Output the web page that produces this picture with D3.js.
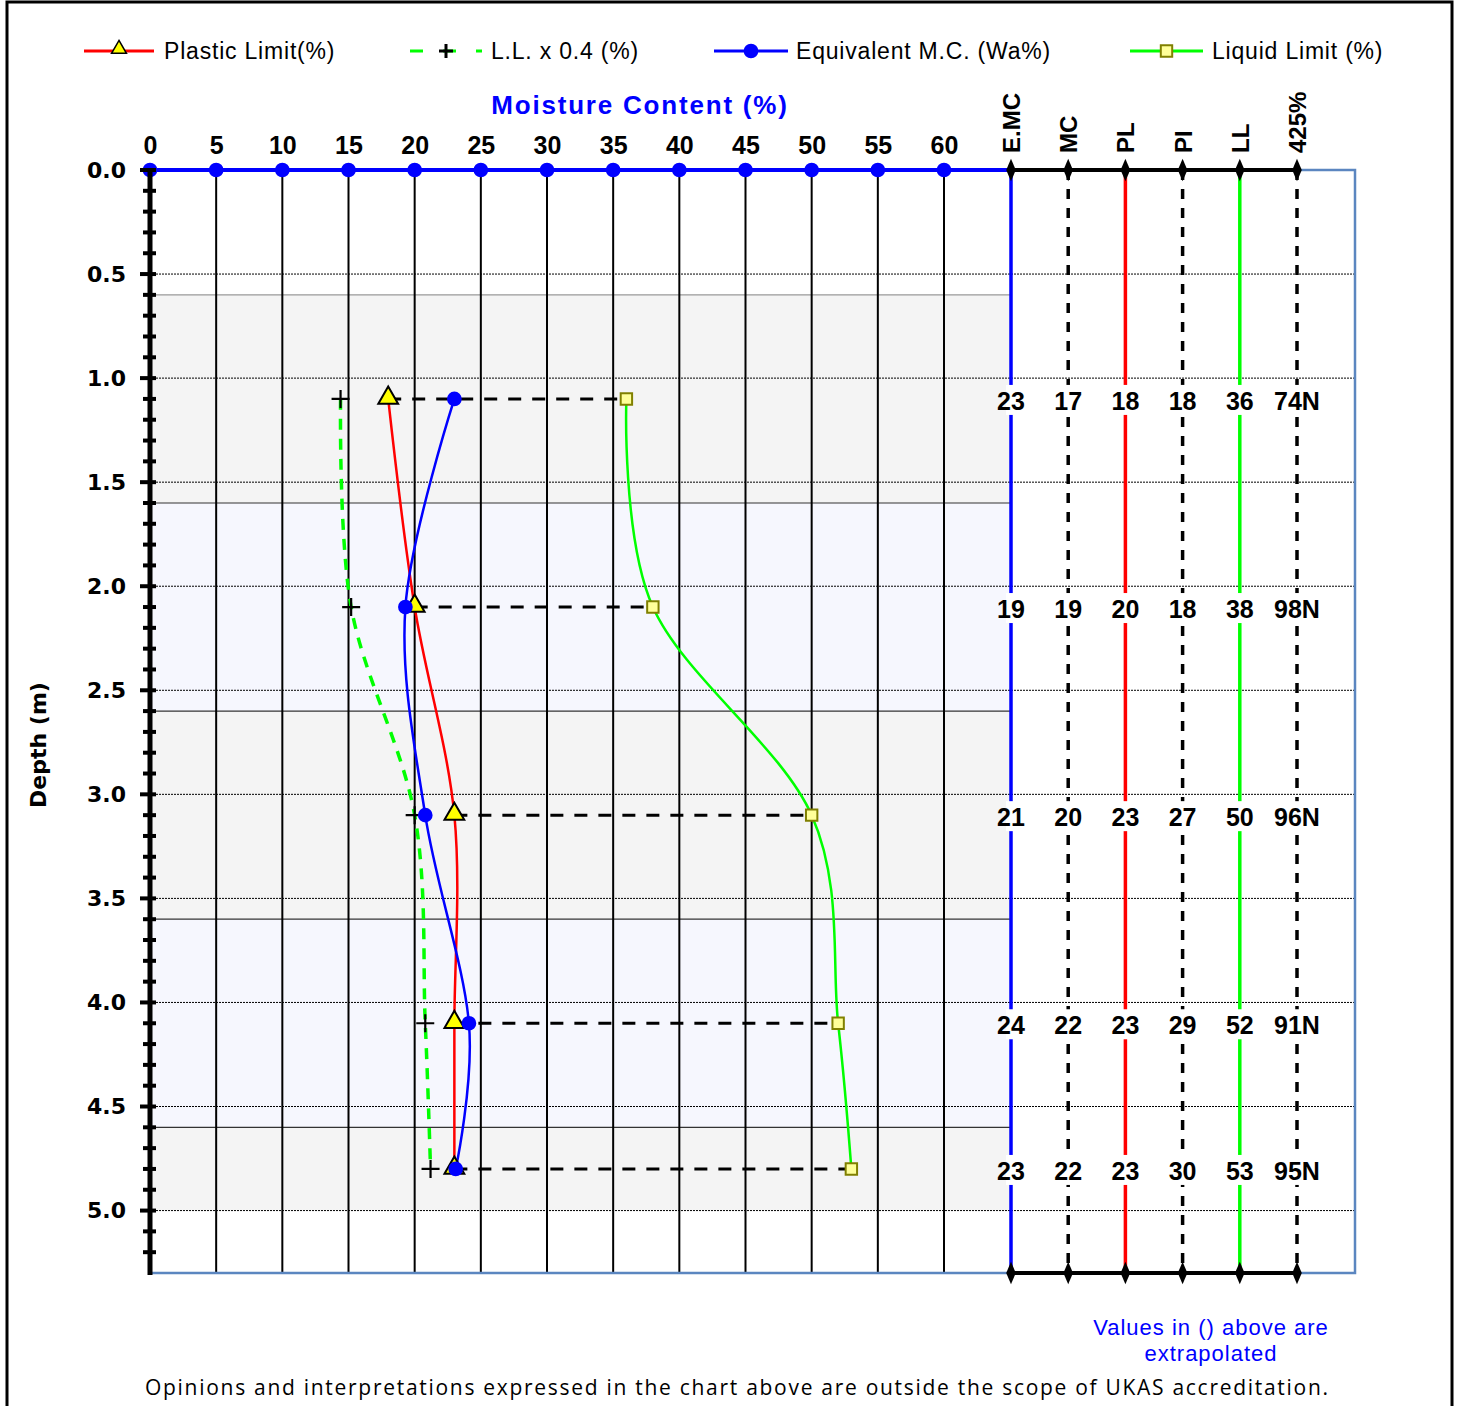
<!DOCTYPE html>
<html>
<head>
<meta charset="utf-8">
<script src="https://cdn.jsdelivr.net/npm/d3@7"></script>
<style>
  body { margin: 0; background: #fff; }
  svg { display: block; }
</style>
</head>
<body>
<script>
// sample depths (m)
var depths = [1.1, 2.1, 3.1, 4.1, 4.8];
// plotted series (%)
var plasticLimit = [18, 20, 23, 23, 23];
var llTimes04 = [14.4, 15.2, 20.0, 20.8, 21.2];
var equivMC = [23.0, 19.3, 20.8, 24.1, 23.1];
var liquidLimit = [36, 38, 50, 52, 53];
// table columns
var colNames = ["E.MC", "MC", "PL", "PI", "LL", "425%"];
var moisture = [17, 19, 20, 22, 22];
var plasticityIndex = [18, 18, 27, 29, 30];
var passing425 = ["74N", "98N", "96N", "91N", "95N"];
// shaded layers
var bandTop = [0.6, 1.6, 2.6, 3.6, 4.6];
var bandBottom = [1.6, 2.6, 3.6, 4.6, 5.0];
var xTicks = [0, 5, 10, 15, 20, 25, 30, 35, 40, 45, 50, 55, 60];
var depthTicks = [0.0, 0.5, 1.0, 1.5, 2.0, 2.5, 3.0, 3.5, 4.0, 4.5, 5.0];

var width = 1458;
var height = 1406;
var plotLeft = 150, plotTop = 170, plotBottom = 1273, plotRight = 1355;

var x = d3.scaleLinear().domain([0, 60]).range([plotLeft, 944]);
var y = d3.scaleLinear().domain([0, 5.3]).range([plotTop, plotBottom]);
var col = d3.scalePoint().domain(colNames).range([1011, 1297]);

var svg = d3.select("body").append("svg")
  .attr("width", width)
  .attr("height", height);

// outer frame
svg.append("rect")
  .attr("x", 7).attr("y", 2)
  .attr("width", 1445).attr("height", 1430)
  .attr("fill", "none").attr("stroke", "#000").attr("stroke-width", 3);

// layer bands
svg.append("g").selectAll("rect")
  .data(bandTop)
  .enter().append("rect")
  .attr("x", plotLeft)
  .attr("y", function(d) { return y(d); })
  .attr("width", col("E.MC") - plotLeft)
  .attr("height", function(d, i) { return y(bandBottom[i]) - y(d); })
  .attr("fill", function(d, i) { return i % 2 == 0 ? "#f4f4f4" : "#f6f7fe"; });

svg.append("g").selectAll("line")
  .data(bandTop)
  .enter().append("line")
  .attr("x1", plotLeft).attr("x2", col("E.MC"))
  .attr("y1", function(d) { return y(d); })
  .attr("y2", function(d) { return y(d); })
  .attr("stroke", function(d, i) { return i == 0 ? "#999" : "#333"; })
  .attr("stroke-width", 1.2);

// dotted depth grid
svg.append("g").selectAll("line")
  .data(depthTicks.slice(1))
  .enter().append("line")
  .attr("x1", plotLeft).attr("x2", plotRight)
  .attr("y1", function(d) { return y(d); })
  .attr("y2", function(d) { return y(d); })
  .attr("stroke", "#000").attr("stroke-width", 1)
  .attr("stroke-dasharray", "2,1");

// vertical grid
svg.append("g").selectAll("line")
  .data(xTicks.slice(1))
  .enter().append("line")
  .attr("x1", function(d) { return x(d); })
  .attr("x2", function(d) { return x(d); })
  .attr("y1", plotTop).attr("y2", plotBottom)
  .attr("stroke", "#000").attr("stroke-width", 2);

// table column lines
var colStyle = {
  "E.MC": ["#0000ff", null],
  "MC": ["#000", "10,9"],
  "PL": ["#ff0000", null],
  "PI": ["#000", "10,9"],
  "LL": ["#00ff00", null],
  "425%": ["#000", "10,9"]
};
svg.append("g").selectAll("line")
  .data(colNames)
  .enter().append("line")
  .attr("x1", function(d) { return col(d); })
  .attr("x2", function(d) { return col(d); })
  .attr("y1", plotTop).attr("y2", plotBottom)
  .attr("stroke", function(d) { return colStyle[d][0]; })
  .attr("stroke-dasharray", function(d) { return colStyle[d][1]; })
  .attr("stroke-width", 3.5);

// plot border right / bottom
svg.append("path")
  .attr("d", "M" + col("425%") + "," + plotTop + "H" + plotRight + "V" + plotBottom + "H" + plotLeft)
  .attr("fill", "none").attr("stroke", "#5b86c0").attr("stroke-width", 2.5);

// dashed connectors PL -> LL
svg.append("g").selectAll("line")
  .data(depths)
  .enter().append("line")
  .attr("x1", function(d, i) { return x(plasticLimit[i]); })
  .attr("x2", function(d, i) { return x(liquidLimit[i]); })
  .attr("y1", function(d) { return y(d); })
  .attr("y2", function(d) { return y(d); })
  .attr("stroke", "#000").attr("stroke-width", 3)
  .attr("stroke-dasharray", "13,11");

function series(vals) {
  return depths.map(function(d, i) { return [vals[i], d]; });
}
var line = d3.line()
  .x(function(d) { return x(d[0]); })
  .y(function(d) { return y(d[1]); })
  .curve(d3.curveCatmullRom.alpha(0));

svg.append("path").attr("d", line(series(llTimes04)))
  .attr("fill", "none").attr("stroke", "#00ff00").attr("stroke-width", 3.5)
  .attr("stroke-dasharray", "11,9");
svg.append("path").attr("d", line(series(liquidLimit)))
  .attr("fill", "none").attr("stroke", "#00ff00").attr("stroke-width", 2.5);
svg.append("path").attr("d", line(series(plasticLimit)))
  .attr("fill", "none").attr("stroke", "#ff0000").attr("stroke-width", 2.5);
svg.append("path").attr("d", line(series(equivMC)))
  .attr("fill", "none").attr("stroke", "#0000ff").attr("stroke-width", 2.5);

// markers
var plus = "M-9,0H9M0,-9V9";
var tri = d3.symbol().type(d3.symbolTriangle).size(170);
var sq = d3.symbol().type(d3.symbolSquare).size(130);
var dot = d3.symbol().type(d3.symbolCircle).size(170);
var diamond = d3.symbol().type(d3.symbolDiamond).size(110);

svg.append("g").selectAll("path")
  .data(series(llTimes04)).enter().append("path")
  .attr("d", plus)
  .attr("transform", function(d) { return "translate(" + x(d[0]) + "," + y(d[1]) + ")"; })
  .attr("stroke", "#000").attr("stroke-width", 2.2);
svg.append("g").selectAll("path")
  .data(series(liquidLimit)).enter().append("path")
  .attr("d", sq)
  .attr("transform", function(d) { return "translate(" + x(d[0]) + "," + y(d[1]) + ")"; })
  .attr("fill", "#ffff99").attr("stroke", "#808000").attr("stroke-width", 2);
svg.append("g").selectAll("path")
  .data(series(plasticLimit)).enter().append("path")
  .attr("d", tri)
  .attr("transform", function(d) { return "translate(" + x(d[0]) + "," + (y(d[1]) - 1) + ")"; })
  .attr("fill", "#ffff00").attr("stroke", "#000").attr("stroke-width", 2);
svg.append("g").selectAll("path")
  .data(series(equivMC)).enter().append("path")
  .attr("d", dot)
  .attr("transform", function(d) { return "translate(" + x(d[0]) + "," + y(d[1]) + ")"; })
  .attr("fill", "#0000ff");

// table values with white knockouts
var tableRows = depths.map(function(d, i) {
  return [d3.format(".0f")(equivMC[i]), moisture[i], plasticLimit[i],
          plasticityIndex[i], liquidLimit[i], passing425[i]];
});
var cells = [];
tableRows.forEach(function(r, i) {
  colNames.forEach(function(c, j) { cells.push({col: c, depth: depths[i], text: r[j]}); });
});
var cellG = svg.append("g");
cellG.selectAll("rect").data(cells).enter().append("rect")
  .attr("x", function(d) { return col(d.col) - 5; })
  .attr("y", function(d) { return y(d.depth) - 14; })
  .attr("width", 10).attr("height", 30)
  .attr("fill", "#fff");
cellG.selectAll("text").data(cells).enter().append("text")
  .attr("x", function(d) { return col(d.col); })
  .attr("y", function(d) { return y(d.depth) + 11; })
  .attr("text-anchor", "middle")
  .style("font", "bold 25px 'Liberation Sans', Arial, sans-serif")
  .text(function(d) { return d.text; });

// top axis: blue moisture line and dots
svg.append("line")
  .attr("x1", plotLeft).attr("x2", col("E.MC"))
  .attr("y1", plotTop).attr("y2", plotTop)
  .attr("stroke", "#0000ff").attr("stroke-width", 4);
svg.append("line")
  .attr("x1", col("E.MC")).attr("x2", col("425%"))
  .attr("y1", plotTop).attr("y2", plotTop)
  .attr("stroke", "#000").attr("stroke-width", 4);
svg.append("line")
  .attr("x1", col("E.MC")).attr("x2", col("425%"))
  .attr("y1", plotBottom).attr("y2", plotBottom)
  .attr("stroke", "#000").attr("stroke-width", 4);
svg.append("g").selectAll("path")
  .data(xTicks).enter().append("path")
  .attr("d", dot)
  .attr("transform", function(d) { return "translate(" + x(d) + "," + plotTop + ")"; })
  .attr("fill", "#0000ff");
svg.append("g").selectAll("path")
  .data(colNames.concat(colNames)).enter().append("path")
  .attr("d", diamond)
  .attr("transform", function(d, i) { return "translate(" + col(d) + "," + (i < 6 ? plotTop : plotBottom) + ") scale(0.85,1.15)"; })
  .attr("fill", "#000");

var topAxis = svg.append("g")
  .attr("transform", "translate(0," + (plotTop - 16) + ")")
  .call(d3.axisTop(x).tickValues(xTicks).tickSize(0).tickPadding(0));
topAxis.select(".domain").remove();
topAxis.selectAll("text")
  .style("font", "bold 25px 'Liberation Sans', Arial, sans-serif")
  .attr("fill", "#000");

// column headers
svg.append("g").selectAll("text")
  .data(colNames).enter().append("text")
  .attr("transform", function(d) { return "translate(" + (col(d) + 9) + "," + 153 + ") rotate(-90)"; })
  .style("font", "bold 24px 'Liberation Sans', Arial, sans-serif")
  .text(function(d) { return d; });

// left depth axis
var minorTicks = d3.range(0, 53).map(function(i) { return i / 10; });
svg.append("g").selectAll("line")
  .data(minorTicks).enter().append("line")
  .attr("x1", function(d, i) { return i % 5 == 0 ? plotLeft - 10 : plotLeft - 7; })
  .attr("x2", plotLeft + 6)
  .attr("y1", function(d) { return y(d); })
  .attr("y2", function(d) { return y(d); })
  .attr("stroke", "#000").attr("stroke-width", 4);
svg.append("line")
  .attr("x1", plotLeft).attr("x2", plotLeft)
  .attr("y1", plotTop).attr("y2", plotBottom + 2)
  .attr("stroke", "#000").attr("stroke-width", 5);

var leftAxis = svg.append("g")
  .attr("transform", "translate(" + (plotLeft - 24) + ",0)")
  .call(d3.axisLeft(y).tickValues(depthTicks).tickFormat(d3.format(".1f")).tickSize(0).tickPadding(0));
leftAxis.select(".domain").remove();
leftAxis.selectAll("text")
  .style("font", "bold 22px 'DejaVu Sans', sans-serif")
  .attr("fill", "#000");

svg.append("text")
  .attr("transform", "translate(46,745) rotate(-90)")
  .attr("text-anchor", "middle")
  .style("font", "bold 22px 'DejaVu Sans', sans-serif")
  .text("Depth (m)");

// axis title
svg.append("text")
  .attr("x", 640).attr("y", 114)
  .attr("text-anchor", "middle")
  .attr("fill", "#0000ff")
  .style("font", "bold 26px 'Liberation Sans', Arial, sans-serif")
  .style("letter-spacing", "1.8px")
  .text("Moisture Content (%)");

// legend
var legendItems = [
  {name: "Plastic Limit(%)", x0: 84, x1: 154, tx: 164, color: "#ff0000", dash: null, mark: "tri"},
  {name: "L.L. x 0.4 (%)", x0: 410, x1: 482, tx: 491, color: "#00ff00", dash: "13,20", mark: "plus"},
  {name: "Equivalent M.C. (Wa%)", x0: 714, x1: 788, tx: 796, color: "#0000ff", dash: null, mark: "dot"},
  {name: "Liquid Limit (%)", x0: 1130, x1: 1203, tx: 1212, color: "#00ff00", dash: null, mark: "sq"}
];
var lg = svg.append("g").selectAll("g").data(legendItems).enter().append("g");
lg.append("line")
  .attr("x1", function(d) { return d.x0; })
  .attr("x2", function(d) { return d.x1; })
  .attr("y1", 51).attr("y2", 51)
  .attr("stroke", function(d) { return d.color; })
  .attr("stroke-width", 3)
  .attr("stroke-dasharray", function(d) { return d.dash; });
lg.append("path")
  .attr("d", function(d) {
    return d.mark == "tri" ? tri() : d.mark == "plus" ? "M-7,0H7M0,-7V7" : d.mark == "dot" ? dot() : sq();
  })
  .attr("transform", function(d) { return "translate(" + ((d.x0 + d.x1) / 2) + "," + (d.mark == "tri" ? 49 : 51) + ")" + (d.mark == "tri" ? " scale(0.75)" : ""); })
  .attr("fill", function(d) {
    return d.mark == "tri" ? "#ffff00" : d.mark == "dot" ? "#0000ff" : d.mark == "sq" ? "#ffff99" : "none";
  })
  .attr("stroke", function(d) {
    return d.mark == "sq" ? "#808000" : d.mark == "dot" ? "none" : "#000";
  })
  .attr("stroke-width", function(d) { return d.mark == "plus" ? 3 : 2; });
lg.append("text")
  .attr("x", function(d) { return d.tx; })
  .attr("y", 59)
  .style("font", "23px 'Liberation Sans', Arial, sans-serif")
  .style("letter-spacing", "0.8px")
  .text(function(d) { return d.name; });

// notes
svg.append("text")
  .attr("x", 1211).attr("y", 1335)
  .attr("text-anchor", "middle").attr("fill", "#0000ff")
  .style("font", "22px 'Liberation Sans', Arial, sans-serif")
  .style("letter-spacing", "1px")
  .text("Values in () above are");
svg.append("text")
  .attr("x", 1211).attr("y", 1361)
  .attr("text-anchor", "middle").attr("fill", "#0000ff")
  .style("font", "22px 'Liberation Sans', Arial, sans-serif")
  .style("letter-spacing", "1px")
  .text("extrapolated");
svg.append("text")
  .attr("x", 145).attr("y", 1395)
  .attr("textLength", 1183).attr("lengthAdjust", "spacing")
  .style("font", "21px 'Open Sans', sans-serif")
  .text("Opinions and interpretations expressed in the chart above are outside the scope of UKAS accreditation.");
</script>
</body>
</html>
